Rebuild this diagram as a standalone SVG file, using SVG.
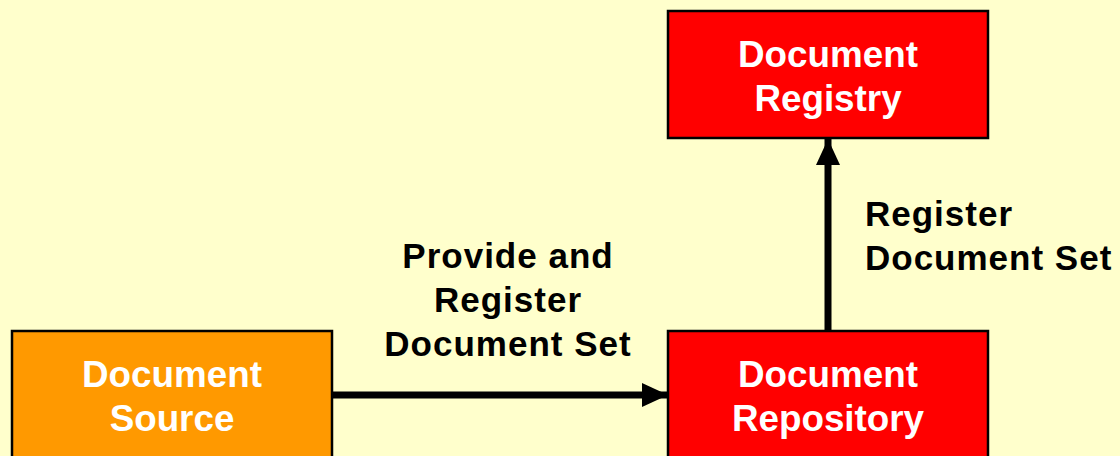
<svg xmlns="http://www.w3.org/2000/svg" width="1120" height="456" viewBox="0 0 1120 456">
<style>
.box{stroke:#000;stroke-width:2.5}
.nt{font-family:"Liberation Sans",Arial,sans-serif;font-weight:bold;font-size:36.8px;fill:#fff;text-anchor:middle}
.lb{font-family:"Liberation Sans",Arial,sans-serif;font-weight:bold;font-size:35px;fill:#000;letter-spacing:1px}
.cn{stroke:#000;stroke-width:7;fill:none}
</style>
<defs>
<marker id="ah" markerUnits="userSpaceOnUse" markerWidth="26" markerHeight="26" viewBox="0 0 26 26" refX="26" refY="13" orient="auto">
<path d="M0,1 L26,13 L0,25 Z" fill="#000"/>
</marker>
</defs>
<rect width="1120" height="456" fill="#FFFFCC"/>
<g id="connectors">
<line class="cn" x1="332" y1="395" x2="668" y2="395" marker-end="url(#ah)"/>
<line class="cn" x1="828" y1="331" x2="828" y2="139" marker-end="url(#ah)"/>
</g>
<g id="source">
<rect class="box" x="12" y="331" width="320" height="140" fill="#FF9900"/>
<text class="nt" x="172" y="387">Document</text>
<text class="nt" x="172" y="431">Source</text>
</g>
<g id="registry">
<rect class="box" x="668" y="11" width="320" height="127" fill="#FF0000"/>
<text class="nt" x="828" y="67">Document</text>
<text class="nt" x="828" y="111">Registry</text>
</g>
<g id="repository">
<rect class="box" x="668" y="331" width="320" height="140" fill="#FF0000"/>
<text class="nt" x="828" y="387">Document</text>
<text class="nt" x="828" y="431">Repository</text>
</g>
<g id="label-provide">
<text class="lb" x="508" y="268" text-anchor="middle">Provide and</text>
<text class="lb" x="508" y="312" text-anchor="middle">Register</text>
<text class="lb" x="508" y="356" text-anchor="middle">Document Set</text>
</g>
<g id="label-register">
<text class="lb" x="865" y="226">Register</text>
<text class="lb" x="865" y="270">Document Set</text>
</g>
</svg>
